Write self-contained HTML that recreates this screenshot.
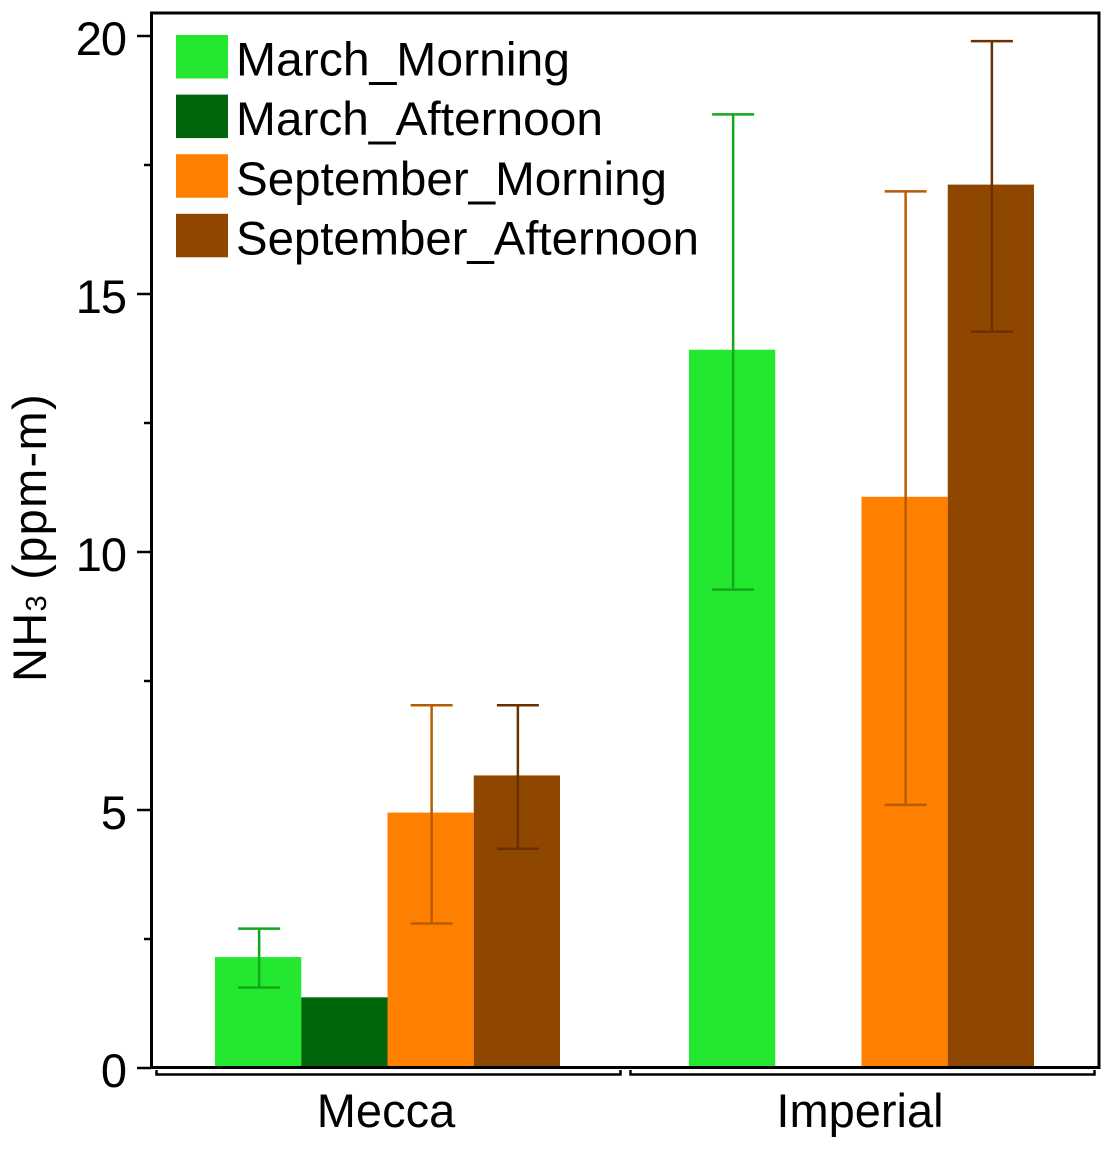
<!DOCTYPE html>
<html>
<head>
<meta charset="utf-8">
<title>NH3 by site and period</title>
<style>
html,body{margin:0;padding:0;background:#fff;width:1113px;height:1150px;overflow:hidden}
svg{display:block}
text{font-family:"Liberation Sans",sans-serif;fill:#000}
</style>
</head>
<body>
<svg id="chart" xmlns="http://www.w3.org/2000/svg" width="1113" height="1150" viewBox="0 0 1113 1150">
  <rect x="151" y="13" width="948" height="1055" fill="#fff"/>
  <g id="bars"></g>
  <g id="errors"></g>
  <rect x="151.5" y="13" width="947.5" height="1054.5" fill="none" stroke="#000" stroke-width="3"/>
  <g id="yaxis"></g>
  <g id="xaxis"></g>
  <text transform="translate(46,682) rotate(-90)" font-size="47" letter-spacing="1.3">NH<tspan font-size="29">3</tspan><tspan font-size="47"> (ppm-m)</tspan></text>
  <g id="legend">
    <text x="236" y="75.5" font-size="47" textLength="334" lengthAdjust="spacingAndGlyphs">March_Morning</text>
    <text x="236" y="135" font-size="47" textLength="367" lengthAdjust="spacingAndGlyphs">March_Afternoon</text>
    <text x="236" y="195" font-size="47" textLength="431" lengthAdjust="spacingAndGlyphs">September_Morning</text>
    <text x="236" y="254.5" font-size="47" textLength="463" lengthAdjust="spacingAndGlyphs">September_Afternoon</text>
  </g>
</svg>
<script>
const categories = ['Mecca', 'Imperial'];
const seriesNames = ['March_Morning', 'March_Afternoon', 'September_Morning', 'September_Afternoon'];
const seriesColors = ['#24e82f', '#00660c', '#ff8000', '#8f4700'];
const errorColors = ['#13a81c', '#00660c', '#b85c00', '#6a3000'];
const marchMorning = [2.15, 13.92];
const marchAfternoon = [1.37, null];
const septemberMorning = [4.95, 11.07];
const septemberAfternoon = [5.67, 17.12];
const marchMorningHigh = [2.70, 18.48];
const marchMorningLow = [1.56, 9.27];
const marchAfternoonHigh = [null, null];
const marchAfternoonLow = [null, null];
const septemberMorningHigh = [7.03, 16.99];
const septemberMorningLow = [2.80, 5.10];
const septemberAfternoonHigh = [7.03, 19.9];
const septemberAfternoonLow = [4.25, 14.27];
const majorTicks = [0, 5, 10, 15, 20];
const minorTicks = [2.5, 7.5, 12.5, 17.5];

const seriesValues = [marchMorning, marchAfternoon, septemberMorning, septemberAfternoon];
const seriesHigh = [marchMorningHigh, marchAfternoonHigh, septemberMorningHigh, septemberAfternoonHigh];
const seriesLow = [marchMorningLow, marchAfternoonLow, septemberMorningLow, septemberAfternoonLow];

const NS = 'http://www.w3.org/2000/svg';
const PLOT_BOTTOM = 1067;
function yScale(v) { return 1068 - v * 51.6; }
const GROUP_WIDTH = 474;
const FIRST_CENTER = 387.5;
const BAR_WIDTH = 86.25;
function groupCenter(c) { return FIRST_CENTER + c * GROUP_WIDTH; }
function barLeft(c, s) { return groupCenter(c) + (s - seriesNames.length / 2) * BAR_WIDTH; }

function make(tag, attrs, parent) {
  const el = document.createElementNS(NS, tag);
  for (const k in attrs) el.setAttribute(k, attrs[k]);
  parent.appendChild(el);
  return el;
}

const barsG = document.getElementById('bars');
const errorsG = document.getElementById('errors');
seriesNames.forEach(function (name, s) {
  categories.forEach(function (cat, c) {
    const v = seriesValues[s][c];
    if (v === null) return;
    const top = yScale(v);
    const bar = make('rect', { x: barLeft(c, s), y: top, width: BAR_WIDTH, height: PLOT_BOTTOM - top, fill: seriesColors[s] }, barsG);
    
    
    const hi = seriesHigh[s][c];
    const lo = seriesLow[s][c];
    if (hi === null || lo === null) return;
    const cx = barLeft(c, s) + BAR_WIDTH / 2 + 1;
    const err = make('path', {
      d: 'M' + cx + ' ' + yScale(hi) + 'V' + yScale(lo) +
         'M' + (cx - 21) + ' ' + yScale(hi) + 'H' + (cx + 21) +
         'M' + (cx - 21) + ' ' + yScale(lo) + 'H' + (cx + 21),
      fill: 'none', stroke: errorColors[s], 'stroke-width': 2.5
    }, errorsG);
    
    
  });
});

const yG = document.getElementById('yaxis');
majorTicks.forEach(function (t) {
  const y = yScale(t);
  const tick = make('line', { x1: 137, x2: 151, y1: y, y2: y, stroke: '#000', 'stroke-width': 2.5 }, yG);
  
  
  const label = make('text', { x: 126, y: y + 19, 'text-anchor': 'end', 'font-size': 47, 'letter-spacing': -1 }, yG);
  label.textContent = String(t);
  
  
});
minorTicks.forEach(function (t) {
  const y = yScale(t);
  const tick = make('line', { x1: 144, x2: 151, y1: y, y2: y, stroke: '#000', 'stroke-width': 2.5 }, yG);
  
  
});

const xG = document.getElementById('xaxis');
categories.forEach(function (cat, c) {
  const mid = groupCenter(c) - 1.5;
  const left = groupCenter(c) - 231;
  const right = groupCenter(c) + 233;
  const bracket = make('path', {
    d: 'M' + left + ' 1070V1074.5H' + right + 'V1070',
    fill: 'none', stroke: '#000', 'stroke-width': 2.5
  }, xG);
  
  
  const label = make('text', { x: mid, y: 1127, 'text-anchor': 'middle', 'font-size': 47 }, xG);
  label.textContent = cat;
  
  
});

const legendG = document.getElementById('legend');
seriesNames.forEach(function (name, s) {
  const rowY = 35 + s * 59.6;
  const swatch = make('rect', { x: 176, y: rowY, width: 52, height: 43.5, fill: seriesColors[s] }, legendG);
  
  
});
</script>
</body>
</html>
